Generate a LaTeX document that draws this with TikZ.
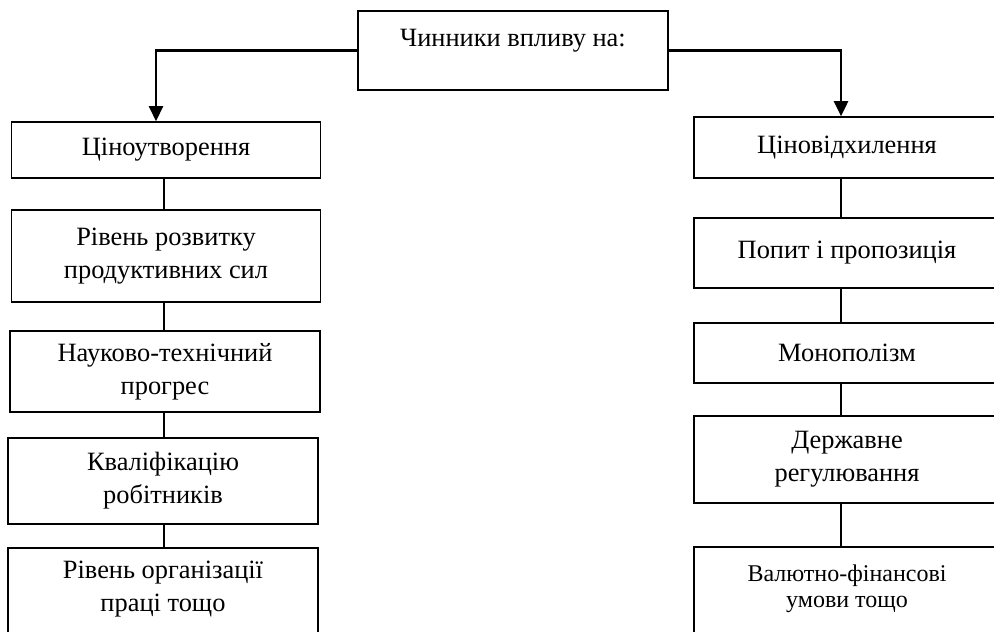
\documentclass[tikz,border=0pt]{standalone}
\usepackage{fontspec}
\setmainfont{Liberation Serif}
\usetikzlibrary{arrows.meta, positioning}

\begin{document}
\begin{tikzpicture}[x=0.5pt, y=-0.5pt,
    box/.style={rectangle, draw, line width=0.8pt, align=center, inner sep=2pt,
      font=\fontsize{13.2}{16.5}\selectfont},
    smallbox/.style={box, font=\fontsize{12}{13}\selectfont},
    arr/.style={-{Triangle[length=7.5pt, width=7pt]}, line width=1.3pt},
    link/.style={line width=0.8pt}]

    \useasboundingbox (0,0) rectangle (994,631);
    \clip (0,0) rectangle (994,631);

    \node[box, minimum width=155pt, minimum height=39.5pt, text depth=13pt] (top) at (513,50.5) {Чинники впливу на:};

    \node[box, minimum width=154.5pt, minimum height=28pt] (price) at (166,150) {Ціноутворення};
    \node[box, minimum width=154.5pt, minimum height=46pt] (forces) at (166,256) {Рівень розвитку\\продуктивних сил};
    \node[box, minimum width=155pt, minimum height=40.5pt] (science) at (165,371.5) {Науково-технічний\\прогрес};
    \node[box, minimum width=155pt, minimum height=43pt] (skill) at (163,481) {Кваліфікацію\\робітників};
    \node[box, minimum width=155pt, minimum height=46pt, text depth=8pt] (labour) at (163,594) {Рівень організації\\праці тощо};

    \node[box, minimum width=153pt, minimum height=30.5pt] (dev) at (847,147.5) {Ціновідхилення};
    \node[box, minimum width=153pt, minimum height=35pt] (demand) at (847,253) {Попит і пропозиція};
    \node[box, minimum width=153pt, minimum height=30pt] (mono) at (847,353) {Монополізм};
    \node[box, minimum width=153pt, minimum height=43.5pt] (state) at (847,459.5) {Державне\\регулювання};
    \node[smallbox, minimum width=153pt, minimum height=49pt, text depth=10pt] (money) at (847,596) {Валютно-фінансові\\умови тощо};

    \coordinate (lx) at (156,0);
    \coordinate (cx) at (164,0);
    \coordinate (rx) at (841,0);

    \draw[arr] (top.west) -| (lx |- price.north);
    \draw[arr] (top.east) -| (rx |- dev.north);

    \draw[link] (cx |- price.south) -- (cx |- forces.north);
    \draw[link] (cx |- forces.south) -- (cx |- science.north);
    \draw[link] (cx |- science.south) -- (cx |- skill.north);
    \draw[link] (cx |- skill.south) -- (cx |- labour.north);

    \draw[link] (rx |- dev.south) -- (rx |- demand.north);
    \draw[link] (rx |- demand.south) -- (rx |- mono.north);
    \draw[link] (rx |- mono.south) -- (rx |- state.north);
    \draw[link] (rx |- state.south) -- (rx |- money.north);
  \end{tikzpicture}
\end{document}
